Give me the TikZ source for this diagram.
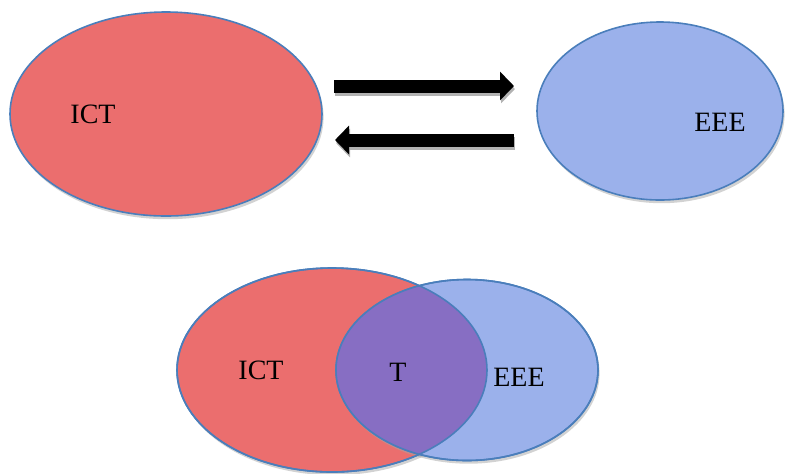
\documentclass[tikz,border=0pt]{standalone}
\usepackage{fontspec}
\setmainfont{Liberation Serif}
\usepackage{tikz}
\usetikzlibrary{positioning, arrows.meta, shapes.geometric, shadows}

\definecolor{ictred}{RGB}{235,110,110}
\definecolor{eeeblue}{RGB}{155,177,235}
\definecolor{mixpurple}{RGB}{135,110,195}
\definecolor{rimblue}{RGB}{74,126,187}

\tikzset{
    field/.style={ellipse, draw=rimblue, line width=0.8pt, inner sep=0pt,
        drop shadow={shadow xshift=0.8pt, shadow yshift=-1.6pt, fill=black!35, opacity=0.5}},
    ictfield/.style={field, fill=ictred},
    eeefield/.style={field, fill=eeeblue},
    rim/.style={draw=rimblue, line width=0.8pt},
    tag/.style={font=\fontsize{14}{16}\selectfont, text=black},
    flow/.style={line width=6.5pt, -{Triangle[length=7pt, width=14pt]}},
    flowshadow/.style={flow, draw=black!30}
}

\begin{document}
\begin{tikzpicture}[x=0.5pt, y=-0.5pt]
        \useasboundingbox (0,0) rectangle (792,473);

        % top pair
        \node[ictfield, minimum width=156pt, minimum height=102pt] (ict) at (166,114) {};
        \node[eeefield, minimum width=123pt, minimum height=89pt] (eee) at (660,111) {};
        \node[tag] (ictlabel) at (93,114) {ICT};
        \node[tag] (eeelabel) at (720,122) {EEE};

        \coordinate (fwdstart) at (334,86);
        \coordinate (fwdend) at (514,86);
        \coordinate (backstart) at (514,140);
        \coordinate (backend) at (335,140);

        % arrows between ICT and EEE
        \draw[flowshadow] ([shift={(1,3)}]fwdstart) -- ([shift={(1,3)}]fwdend);
        \draw[flowshadow] ([shift={(1,3)}]backstart) -- ([shift={(1,3)}]backend);
        \draw[flow] (fwdstart) -- (fwdend);
        \draw[flow] (backstart) -- (backend);

        % overlapping pair
        \node[ictfield, minimum width=155pt, minimum height=102pt] (ictb) at (332,370) {};
        \node[eeefield, minimum width=131pt, minimum height=90.5pt] (eeeb) at (467,370) {};
        \begin{scope}
            \clip (eeeb.center) ellipse (65.5pt and 45.25pt);
            \fill[mixpurple] (ictb.center) ellipse (77.5pt and 51pt);
        \end{scope}
        \draw[rim] (ictb.center) ellipse (77.5pt and 51pt);
        \draw[rim] (eeeb.center) ellipse (65.5pt and 45.25pt);
        \node[tag] (ictblabel) at (261,370) {ICT};
        \node[tag] (tlabel) at (398,372) {T};
        \node[tag] (eeeblabel) at (519,377) {EEE};
    \end{tikzpicture}
\end{document}
